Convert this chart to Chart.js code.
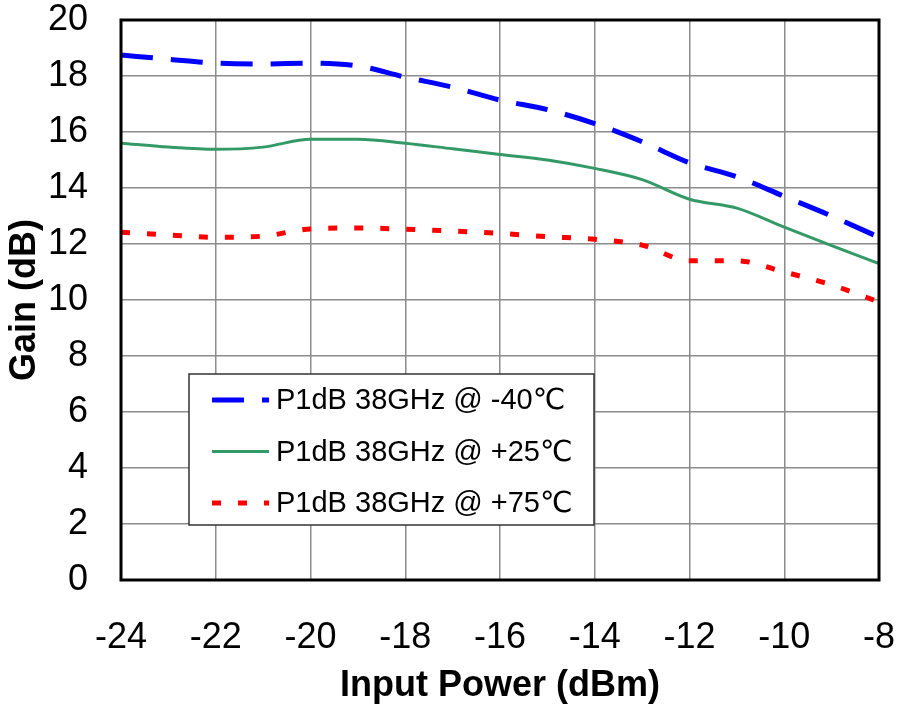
<!DOCTYPE html>
<html>
<head>
<meta charset="utf-8">
<script src="https://cdn.jsdelivr.net/npm/chart.js@4"></script>
<style>
    body { margin: 0; background: #fff; }
</style>
</head>
<body>
<canvas id="myChart" width="898" height="708"></canvas>
<script>
// input power, dBm
const inputPower = [-24, -23, -22, -21, -20, -19, -18, -17, -16, -15, -14, -13, -12, -11, -10, -9, -8]
const gainM40 = [18.75, 18.6, 18.46, 18.43, 18.46, 18.36, 17.96, 17.6, 17.14, 16.8, 16.3, 15.65, 14.9, 14.4, 13.7, 13.0, 12.24]
const gainP25 = [15.6, 15.46, 15.38, 15.46, 15.74, 15.74, 15.6, 15.4, 15.2, 15.0, 14.7, 14.3, 13.6, 13.28, 12.6, 11.94, 11.3]
const gainP75 = [12.42, 12.32, 12.24, 12.28, 12.54, 12.57, 12.53, 12.46, 12.38, 12.26, 12.17, 11.96, 11.4, 11.4, 11.0, 10.54, 9.93]
const seriesNames = ['P1dB 38GHz @ -40℃', 'P1dB 38GHz @ +25℃', 'P1dB 38GHz @ +75℃']

const FONT = "'Liberation Sans', Arial, 'DejaVu Sans', sans-serif"

function toPoints(ys) {
    let out = []
    for (let i = 0; i < inputPower.length; i++) {
        out.push({x: inputPower[i], y: ys[i]})
    }
    return out
}

// black frame round the plot area
const frame = {
    id: 'frame',
    afterDatasetsDraw(chart) {
        const a = chart.chartArea
        const ctx = chart.ctx
        ctx.save()
        ctx.strokeStyle = '#000'
        ctx.lineWidth = 3
        ctx.strokeRect(a.left, a.top, a.right - a.left, a.bottom - a.top)
        ctx.restore()
    }
}

// legend box inside the plot, like the excel one
const boxLegend = {
    id: 'boxLegend',
    afterDraw(chart) {
        const a = chart.chartArea
        const ctx = chart.ctx
        const x0 = a.left + 68, y0 = a.top + 354
        const w = 405, h = 151
        ctx.save()
        ctx.fillStyle = '#fff'
        ctx.fillRect(x0, y0, w, h)
        ctx.strokeStyle = '#333'
        ctx.lineWidth = 1.5
        ctx.strokeRect(x0, y0, w, h)
        chart.data.datasets.forEach((ds, i) => {
            const y = y0 + 26 + i * 51.5
            ctx.strokeStyle = ds.borderColor
            ctx.lineWidth = ds.borderWidth
            ctx.setLineDash(ds.borderDash || [])
            ctx.beginPath()
            ctx.moveTo(x0 + 23, y)
            ctx.lineTo(x0 + 80, y)
            ctx.stroke()
            ctx.setLineDash([])
            ctx.fillStyle = '#000'
            ctx.font = '29px ' + FONT
            ctx.textBaseline = 'middle'
            ctx.fillText(ds.label, x0 + 87, y + 1)
        })
        ctx.restore()
    }
}

const ctx = document.getElementById('myChart')
const myChart = new Chart(ctx, {
    type: 'line',
    data: {
        datasets: [{
            label: seriesNames[0],
            data: toPoints(gainM40),
            borderColor: '#0000ff',
            borderWidth: 5,
            borderDash: [32, 18],
            pointRadius: 0,
            cubicInterpolationMode: 'monotone'
        }, {
            label: seriesNames[1],
            data: toPoints(gainP25),
            borderColor: '#339966',
            borderWidth: 3,
            pointRadius: 0,
            cubicInterpolationMode: 'monotone'
        }, {
            label: seriesNames[2],
            data: toPoints(gainP75),
            borderColor: '#ff0000',
            borderWidth: 5,
            borderDash: [9, 17],
            pointRadius: 0,
            cubicInterpolationMode: 'monotone'
        }]
    },
    options: {
        responsive: false,
        animation: false,
        layout: {
            padding: {top: 20, right: 19, bottom: 0, left: 0}
        },
        scales: {
            x: {
                type: 'linear',
                min: -24,
                max: -8,
                ticks: {
                    stepSize: 2,
                    color: '#000',
                    padding: 36,
                    font: {family: FONT, size: 36}
                },
                grid: {color: '#8c8c8c', lineWidth: 1.5, drawTicks: false},
                border: {display: false},
                title: {
                    display: true,
                    text: 'Input Power (dBm)',
                    color: '#000',
                    padding: {top: 0, bottom: 0},
                    font: {family: FONT, size: 36, weight: 'bold'}
                },
                afterFit: (scale) => {
                    scale.height = 128
                    scale.paddingLeft = 0
                    scale.paddingRight = 0
                }
            },
            y: {
                min: 0,
                max: 20,
                ticks: {
                    stepSize: 2,
                    color: '#000',
                    padding: 33,
                    font: {family: FONT, size: 36}
                },
                grid: {color: '#8c8c8c', lineWidth: 1.5, drawTicks: false},
                border: {display: false},
                title: {
                    display: true,
                    text: 'Gain (dB)',
                    color: '#000',
                    padding: {top: 3, bottom: 0},
                    font: {family: FONT, size: 36, weight: 'bold'}
                },
                afterFit: (scale) => {
                    scale.width = 121
                    scale.paddingTop = 0
                    scale.paddingBottom = 0
                }
            }
        },
        plugins: {
            legend: {display: false},
            tooltip: {enabled: false}
        }
    },
    plugins: [frame, boxLegend]
})
</script>
</body>
</html>
